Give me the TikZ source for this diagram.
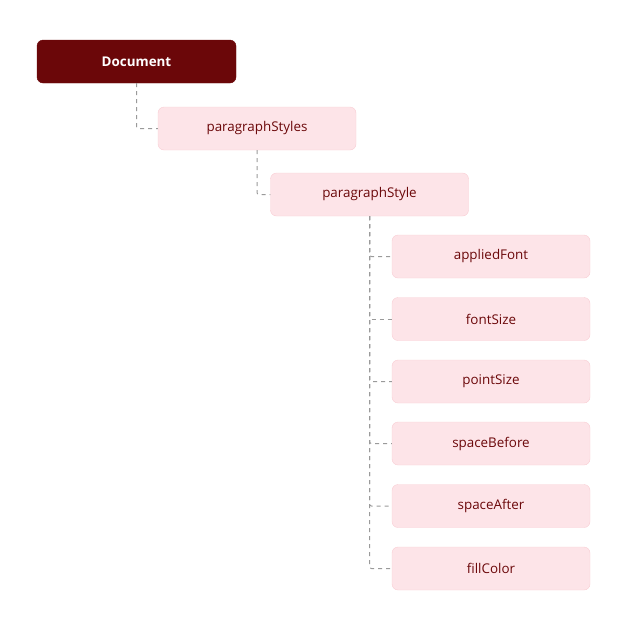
\documentclass[tikz,border=0pt]{standalone}
\usepackage{fontspec}
\setmainfont{Open Sans}
\definecolor{docred}{HTML}{6B0709}
\definecolor{boxpink}{HTML}{FDE4E8}
\definecolor{boxline}{HTML}{F9CDD3}
\definecolor{linegray}{HTML}{9A9A9A}
\tikzset{
  docbox/.style={draw=docred, fill=docred, text=white, rounded corners=6pt,
    minimum width=199pt, minimum height=43pt, font=\fontsize{13.4}{15}\selectfont\bfseries},
  itembox/.style={draw=boxline, fill=boxpink, text=docred, rounded corners=6pt,
    minimum width=198pt, minimum height=43pt, font=\fontsize{13.4}{15}\selectfont},
  conn/.style={draw=linegray, dash pattern=on 4pt off 4pt, line width=1pt, rounded corners=2pt}
}
\begin{document}
\begin{tikzpicture}[x=1pt,y=-1pt]
  \useasboundingbox (0,0) rectangle (640,630);
  \node[docbox] (doc) at (136.5,61.5) {Document};
  \node[itembox] (styles) at (257,128.5) {paragraphStyles};
  \node[itembox] (style) at (369.5,194.5) {paragraphStyle};
  \node[itembox] (font) at (491,256.5) {appliedFont};
  \node[itembox] (size) at (491,319) {fontSize};
  \node[itembox] (point) at (491,381.5) {pointSize};
  \node[itembox] (before) at (491,443.5) {spaceBefore};
  \node[itembox] (after) at (491,506) {spaceAfter};
  \node[itembox] (fill) at (491,568.5) {fillColor};
  \draw[conn] (doc.south) |- (styles.west);
  \draw[conn] (styles.south) |- (style.west);
  \draw[conn] (style.south) |- (font.west);
  \draw[conn] (style.south) |- (size.west);
  \draw[conn] (style.south) |- (point.west);
  \draw[conn] (style.south) |- (before.west);
  \draw[conn] (style.south) |- (after.west);
  \draw[conn] (style.south) |- (fill.west);
\end{tikzpicture}
\end{document}
